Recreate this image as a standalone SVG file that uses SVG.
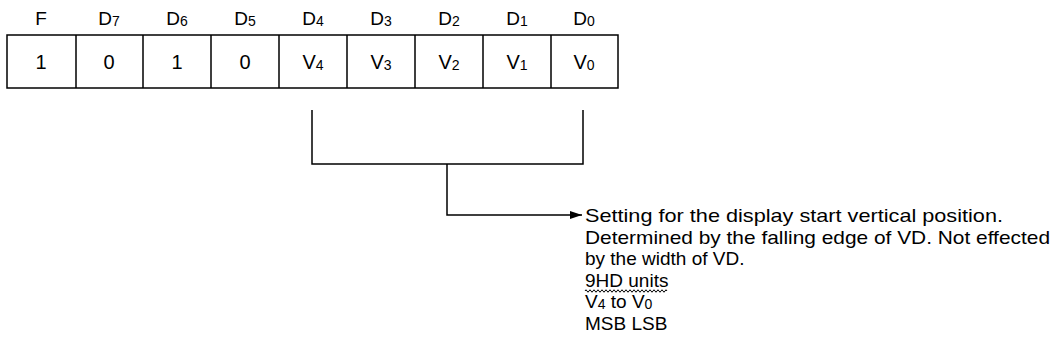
<svg xmlns="http://www.w3.org/2000/svg" width="1056" height="358" viewBox="0 0 1056 358">
<defs>
<style>
text{font-family:"Liberation Sans",Arial,sans-serif;fill:#000}
.h{font-size:19px;text-anchor:middle}
.c{font-size:20px;text-anchor:middle}
.d{font-size:19px}
.s{font-size:14px}
.ln{stroke:#000;stroke-width:1.5;fill:none}
</style>
<marker id="ah" viewBox="0 0 12 8" refX="12" refY="4" markerWidth="12" markerHeight="8" markerUnits="userSpaceOnUse" orient="auto"><path d="M0,0 L12,4 L0,8 Z" fill="#000"/></marker>
</defs>
<rect width="1056" height="358" fill="#fff"/>
<g id="register">
<rect class="ln" x="7" y="35" width="611" height="53"/>
<path class="ln" d="M76,35V88M143,35V88M211,35V88M279,35V88M347,35V88M415,35V88M483,35V88M551,35V88"/>
<text class="h" x="41" y="25">F</text>
<text class="h" x="109" y="25">D<tspan class="s" dy="1">7</tspan></text>
<text class="h" x="177" y="25">D<tspan class="s" dy="1">6</tspan></text>
<text class="h" x="245" y="25">D<tspan class="s" dy="1">5</tspan></text>
<text class="h" x="313" y="25">D<tspan class="s" dy="1">4</tspan></text>
<text class="h" x="381" y="25">D<tspan class="s" dy="1">3</tspan></text>
<text class="h" x="449" y="25">D<tspan class="s" dy="1">2</tspan></text>
<text class="h" x="517" y="25">D<tspan class="s" dy="1">1</tspan></text>
<text class="h" x="584" y="25">D<tspan class="s" dy="1">0</tspan></text>
<text class="c" x="41" y="69">1</text>
<text class="c" x="109" y="69">0</text>
<text class="c" x="177" y="69">1</text>
<text class="c" x="245" y="69">0</text>
<text class="c" x="313" y="69">V<tspan class="s" dy="1">4</tspan></text>
<text class="c" x="381" y="69">V<tspan class="s" dy="1">3</tspan></text>
<text class="c" x="449" y="69">V<tspan class="s" dy="1">2</tspan></text>
<text class="c" x="517" y="69">V<tspan class="s" dy="1">1</tspan></text>
<text class="c" x="584" y="69">V<tspan class="s" dy="1">0</tspan></text>
</g>
<g id="connectors">
<path class="ln" d="M312,110V164H583V110M447,164V215H582" marker-end="url(#ah)"/>
</g>
<g id="description">
<text class="d" x="585" y="222" textLength="418" lengthAdjust="spacingAndGlyphs">Setting for the display start vertical position.</text>
<text class="d" x="585" y="243.5" textLength="465" lengthAdjust="spacingAndGlyphs">Determined by the falling edge of VD. Not effected</text>
<text class="d" x="585" y="265">by the width of VD.</text>
<text class="d" x="585" y="286.5">9HD units</text>
<path d="M585,291q1,-2.5 2,0t2,0t2,0t2,0t2,0t2,0t2,0t2,0t2,0t2,0t2,0t2,0t2,0t2,0t2,0t2,0t2,0t2,0t2,0t2,0t2,0t2,0t2,0t2,0t2,0t2,0t2,0t2,0t2,0t2,0t2,0t2,0t2,0t2,0t2,0t2,0t2,0t2,0t2,0t2,0t2,0" fill="none" stroke="#000" stroke-width="1"/>
<text class="d" x="585" y="308">V<tspan class="s" dy="1">4</tspan><tspan dy="-1"> to V</tspan><tspan class="s" dy="1">0</tspan></text>
<text class="d" x="585" y="329.5">MSB LSB</text>
</g>
</svg>
